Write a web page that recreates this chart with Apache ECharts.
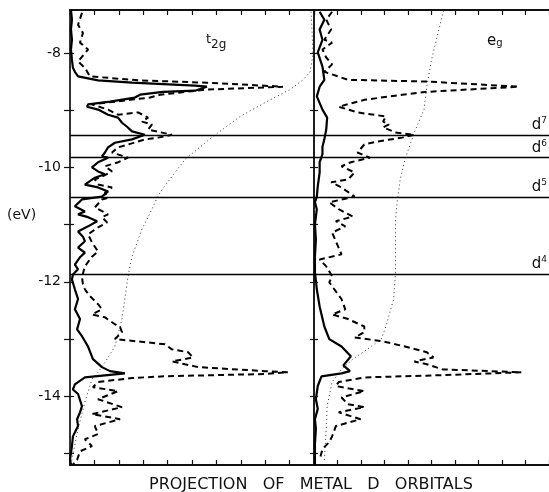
<!DOCTYPE html>
<html><head><meta charset="utf-8">
<script src="https://cdn.jsdelivr.net/npm/echarts@6/dist/echarts.min.js"></script>
<style>html,body{margin:0;padding:0;background:#fff}#c{width:549px;height:492px}</style>
</head><body><div id="c"></div>
<script>
// [intensity, energy eV]
const t2gSolid = [[0.04,-7.25],[0.08,-7.42],[0.04,-7.59],[0.08,-7.77],[0.04,-7.94],[0.08,-8.12],[0.12,-8.26],[0.2,-8.33],[0.33,-8.41],[1.15,-8.48],[2.54,-8.52],[5.12,-8.57],[5.61,-8.59],[5.12,-8.66],[3.81,-8.68],[2.87,-8.73],[2.66,-8.78],[1.64,-8.85],[0.74,-8.90],[0.70,-8.94],[1.15,-8.99],[1.56,-9.08],[1.97,-9.13],[2.13,-9.22],[2.34,-9.29],[2.54,-9.37],[3.07,-9.43],[2.54,-9.51],[1.84,-9.57],[1.56,-9.65],[1.43,-9.74],[1.31,-9.81],[1.56,-9.83],[1.15,-9.91],[0.90,-10.00],[1.15,-10.07],[1.43,-10.12],[1.02,-10.18],[0.61,-10.30],[1.15,-10.35],[1.56,-10.42],[1.31,-10.51],[0.49,-10.56],[0.2,-10.68],[0.61,-10.77],[0.33,-10.82],[0.74,-10.87],[1.11,-10.94],[0.74,-11.03],[0.33,-11.12],[0.53,-11.21],[0.61,-11.29],[0.33,-11.40],[0.61,-11.49],[0.41,-11.57],[0.2,-11.70],[0.33,-11.78],[0.12,-11.87],[0.08,-11.96],[0.2,-12.13],[0.33,-12.30],[0.2,-12.48],[0.41,-12.65],[0.29,-12.83],[0.49,-12.95],[0.74,-13.13],[0.94,-13.35],[1.31,-13.49],[1.64,-13.56],[2.25,-13.60],[0.61,-13.67],[0.2,-13.79],[0.12,-13.88],[0.33,-13.96],[0.49,-14.17],[0.41,-14.28],[0.29,-14.40],[0.33,-14.52],[0.12,-14.70],[0.08,-14.87],[0,-15.11],[0.04,-15.19]];
const t2gDashed = [[0.49,-7.30],[0.33,-7.51],[0.53,-7.65],[0.41,-7.82],[0.74,-7.94],[0.33,-8.15],[0.61,-8.26],[0.82,-8.41],[2.87,-8.48],[5.61,-8.52],[8.73,-8.59],[5.61,-8.64],[3.69,-8.73],[3.28,-8.78],[2.46,-8.82],[0.90,-8.90],[1.56,-8.99],[1.97,-9.08],[2.79,-9.04],[3.20,-9.13],[2.95,-9.20],[3.36,-9.25],[3.20,-9.34],[4.18,-9.43],[3.61,-9.48],[3.07,-9.51],[2.38,-9.60],[1.97,-9.65],[1.72,-9.74],[2.38,-9.83],[1.97,-9.91],[1.43,-9.98],[1.72,-10.07],[1.31,-10.16],[1.02,-10.21],[1.15,-10.30],[1.72,-10.35],[1.43,-10.44],[1.56,-10.53],[1.31,-10.56],[1.02,-10.70],[1.56,-10.82],[1.31,-10.87],[1.52,-10.96],[1.15,-11.05],[0.74,-11.17],[0.90,-11.31],[1.15,-11.47],[0.90,-11.56],[0.61,-11.73],[0.49,-11.92],[0.53,-12.04],[0.61,-12.13],[0.82,-12.25],[1.15,-12.39],[1.31,-12.48],[0.90,-12.57],[1.43,-12.62],[1.84,-12.74],[2.05,-12.79],[2.13,-12.88],[1.84,-13.00],[3.89,-13.09],[4.18,-13.18],[4.84,-13.23],[5.04,-13.32],[4.18,-13.39],[4.71,-13.44],[5.25,-13.49],[7.99,-13.56],[8.93,-13.58],[7.99,-13.61],[3.89,-13.65],[2.54,-13.68],[1.15,-13.75],[0.94,-13.84],[1.97,-13.91],[1.15,-14.05],[2.13,-14.19],[0.90,-14.31],[2.05,-14.40],[1.02,-14.52],[1.15,-14.66],[0.61,-14.75],[0.90,-14.87],[0.41,-14.96],[0.29,-15.11],[0.12,-15.19]];
const t2gDotted = [[0.04,-15.19],[0.33,-14.57],[0.61,-14.10],[0.90,-13.70],[1.15,-13.58],[1.43,-13.41],[1.84,-13.13],[2.13,-12.65],[2.38,-11.90],[2.54,-11.56],[2.95,-11.08],[3.36,-10.73],[3.57,-10.53],[3.77,-10.39],[4.71,-9.86],[5.86,-9.46],[6.97,-9.11],[8.20,-8.82],[9.02,-8.64],[9.55,-8.47],[9.84,-8.33],[9.96,-8.03],[9.92,-7.63],[9.88,-7.28]];
const egSolid = [[0.24,-7.28],[0.44,-7.42],[0.24,-7.59],[0.36,-7.77],[0.16,-7.99],[0.36,-8.24],[0.44,-8.47],[0.24,-8.59],[0.12,-8.76],[0.36,-8.99],[0.56,-9.13],[0.52,-9.34],[0.44,-9.51],[0.36,-9.64],[0.36,-9.77],[0.24,-9.91],[0.24,-10.09],[0.16,-10.33],[0.12,-10.51],[0.04,-10.61],[0.12,-10.73],[0.04,-11.00],[0.08,-11.26],[0.04,-11.56],[0.04,-11.83],[0.12,-12.13],[0.24,-12.43],[0.44,-12.78],[0.65,-13.00],[1.17,-13.13],[1.57,-13.30],[1.25,-13.46],[1.53,-13.56],[1.17,-13.60],[0.32,-13.65],[0.16,-13.82],[0.08,-14.05],[0.16,-14.22],[0.04,-14.40],[0.08,-14.57],[0.04,-14.83],[0.04,-15.19]];
const egDashed = [[0.77,-7.28],[0.52,-7.42],[0.73,-7.59],[0.44,-7.77],[0.77,-7.82],[0.36,-7.94],[0.52,-8.08],[0.77,-8.20],[0.44,-8.33],[1.45,-8.47],[4.80,-8.50],[8.71,-8.59],[4.80,-8.68],[3.75,-8.73],[2.14,-8.82],[1.05,-8.94],[1.85,-9.04],[3.06,-9.11],[2.94,-9.20],[3.19,-9.25],[2.94,-9.30],[3.47,-9.39],[4.27,-9.43],[3.75,-9.48],[2.66,-9.55],[2.14,-9.60],[1.85,-9.74],[2.38,-9.83],[1.57,-9.91],[1.17,-9.98],[1.73,-10.09],[1.45,-10.21],[0.73,-10.26],[1.17,-10.35],[1.73,-10.51],[0.65,-10.61],[1.05,-10.73],[1.65,-10.86],[0.93,-10.94],[1.33,-11.03],[0.77,-11.14],[0.93,-11.29],[1.17,-11.52],[0.24,-11.61],[0.52,-11.73],[0.77,-11.90],[0.65,-12.01],[1.17,-12.30],[1.33,-12.48],[0.77,-12.57],[1.45,-12.65],[2.14,-12.78],[2.14,-12.88],[1.73,-12.97],[2.94,-13.04],[3.87,-13.13],[4.80,-13.23],[5.08,-13.32],[4.27,-13.39],[4.80,-13.44],[5.48,-13.53],[8.83,-13.58],[5.48,-13.63],[2.14,-13.67],[1.05,-13.75],[0.93,-13.82],[2.14,-13.91],[1.17,-14.02],[1.45,-14.14],[2.14,-14.19],[1.05,-14.28],[1.98,-14.40],[0.93,-14.52],[0.77,-14.70],[0.65,-14.80],[0.36,-14.92],[0.24,-15.11]];
const egDotted = [[0.44,-15.11],[0.52,-14.57],[0.56,-14.17],[0.77,-13.75],[1.17,-13.53],[1.65,-13.35],[2.26,-13.18],[2.86,-13.00],[3.06,-12.78],[3.39,-12.30],[3.47,-11.83],[3.47,-11.26],[3.47,-10.91],[3.55,-10.56],[3.67,-10.21],[3.87,-9.86],[4.27,-9.39],[4.68,-8.99],[4.80,-8.59],[5.00,-8.12],[5.28,-7.65],[5.52,-7.25]];
const dLevelE = [-9.43, -9.83, -10.52, -11.87];
const dLevelN = ['7', '6', '5', '4'];
const yTicks = [-15, -14, -13, -12, -11, -10, -9, -8];
const yLabels = [-14, -12, -10, -8];
const xTicks = [0,1,2,3,4,5,6,7,8,9,10];

const FONT = 'DejaVu Sans';
const chart = echarts.init(document.getElementById('c'), null, {renderer: 'canvas'});

function xAx(gi, pos) {
  return {type: 'value', gridIndex: gi, position: pos, min: 0, max: 10,
    axisLine: {show: true, onZero: false, lineStyle: {color: '#111', width: 2}},
    axisTick: {show: true, inside: true, length: 5, customValues: xTicks, lineStyle: {color: '#111', width: 1.2}},
    axisLabel: {show: false}, splitLine: {show: false}};
}
function yAx(gi, inside, labels) {
  return {type: 'value', gridIndex: gi, position: 'left', min: -15.2, max: -7.25,
    axisLine: {show: true, onZero: false, lineStyle: {color: gi === 0 ? '#333' : '#111', width: gi === 0 ? 2 : 1.5}},
    axisTick: {show: true, inside: inside, length: inside ? 4 : (gi === 0 ? 6 : 4), customValues: yTicks, lineStyle: {color: '#111', width: 1.2}},
    axisLabel: labels ? {show: true, customValues: yLabels, margin: 9, color: '#111', fontFamily: FONT, fontSize: 14, formatter: v => String(v)} : {show: false},
    splitLine: {show: false}};
}
const lineBase = {type: 'line', showSymbol: false, symbol: 'none', silent: true, animation: false};
const mlLines = dLevelE.map((e, i) => ({yAxis: e, name: dLevelN[i]}));
const txt = (size) => ({fontFamily: FONT, fontSize: size, fontWeight: 'normal', color: '#111'});

chart.setOption({
  animation: false,
  grid: [{left: 70, top: 10, width: 244, height: 455}, {left: 314, top: 10, width: 248, height: 455}],
  xAxis: [xAx(0, 'bottom'), xAx(0, 'top'), xAx(1, 'bottom'), xAx(1, 'top')],
  yAxis: [yAx(0, false, true), yAx(0, true, false), yAx(1, false, false), yAx(1, true, false)],
  title: [
    {text: '{t|t}{s|2g}', left: 206, top: 33, padding: 0, textStyle: {rich: {t: Object.assign(txt(13), {padding: [0,0,10,0]}), s: txt(12)}}},
    {text: '{t|e}{s|g}', left: 487, top: 34, padding: 0, textStyle: {rich: {t: Object.assign(txt(15), {padding: [0,0,4,0]}), s: txt(10)}}},
    {text: '(eV)', left: 7, top: 208, padding: 0, textStyle: txt(14)},
    {text: 'PROJECTION   OF   METAL   D   ORBITALS', left: 149, top: 477, padding: 0, textStyle: txt(16)}
  ],
  series: [
    Object.assign({}, lineBase, {name: 't2g solid', xAxisIndex: 0, yAxisIndex: 0, data: t2gSolid, z: 5,
      lineStyle: {color: '#000', width: 2.2},
      markLine: {silent: true, symbol: 'none', animation: false, lineStyle: {color: '#000', type: 'solid', width: 1.3}, label: {show: false}, data: mlLines}}),
    Object.assign({}, lineBase, {name: 't2g dashed', xAxisIndex: 0, yAxisIndex: 0, data: t2gDashed, lineStyle: {color: '#000', width: 2, type: [6, 4]}}),
    Object.assign({}, lineBase, {name: 't2g dotted', xAxisIndex: 0, yAxisIndex: 0, data: t2gDotted, lineStyle: {color: '#333', width: 1, type: [1, 3]}}),
    Object.assign({}, lineBase, {name: 'eg solid', xAxisIndex: 2, yAxisIndex: 2, data: egSolid, z: 5,
      lineStyle: {color: '#000', width: 2.2},
      markLine: {silent: true, symbol: 'none', animation: false, lineStyle: {color: '#000', type: 'solid', width: 1.3},
        label: {show: true, position: 'insideEndTop', distance: 1, offset: [-1, 0], formatter: p => '{d|d}{s|' + p.name + '}',
          rich: {d: txt(15), s: Object.assign(txt(9), {padding: [0,0,9,0]})}},
        data: mlLines}}),
    Object.assign({}, lineBase, {name: 'eg dashed', xAxisIndex: 2, yAxisIndex: 2, data: egDashed, lineStyle: {color: '#000', width: 2, type: [6, 4]}}),
    Object.assign({}, lineBase, {name: 'eg dotted', xAxisIndex: 2, yAxisIndex: 2, data: egDotted, lineStyle: {color: '#333', width: 1, type: [1, 3]}})
  ]
});
</script></body></html>
